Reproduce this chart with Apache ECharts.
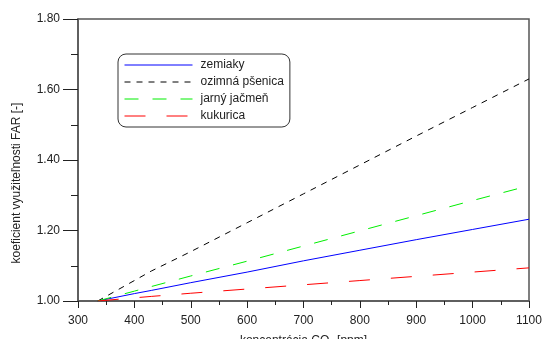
<!DOCTYPE html>
<html>
<head>
<meta charset="utf-8">
<script src="https://cdn.jsdelivr.net/npm/echarts@6/dist/echarts.min.js"></script>
<style>
html,body{margin:0;padding:0;background:#fff;}
#chart{width:542px;height:339px;}
</style>
</head>
<body>
<div id="chart"></div>
<script>
var seriesNames = ['zemiaky', 'ozimná pšenica', 'jarný jačmeň', 'kukurica'];
var ppm = [335, 400, 430, 500, 600, 700, 800, 900, 1000, 1100];
var zemiaky = [1.000, 1.021, 1.030, 1.052, 1.082, 1.114, 1.144, 1.174, 1.203, 1.232];
var ozimnaPsenica = [1.000, 1.058, 1.085, 1.140, 1.222, 1.304, 1.386, 1.468, 1.549, 1.630];
var jarnyJacmen = [1.000, 1.028, 1.041, 1.071, 1.113, 1.156, 1.199, 1.242, 1.285, 1.327];
var kukurica = [1.000, 1.009, 1.013, 1.022, 1.034, 1.046, 1.058, 1.070, 1.082, 1.094];
var xName = ['koncentrácia CO', '2', ' [ppm]'];
var yName = 'koeficient využiteľnosti FAR [-]';

function pairs(ys){ return ppm.map(function(x,i){ return [x, ys[i]]; }); }

var axisCol = '#555';
var font = 'Liberation Sans, Arial, sans-serif';
var chart = echarts.init(document.getElementById('chart'), null, {renderer:'canvas'});
chart.setOption({
  animation: false,
  backgroundColor: '#fff',
  grid: {left: 78, right: 13, top: 19, bottom: 38, containLabel: false, outerBoundsMode: 'none',
    show: true, borderColor: axisCol, borderWidth: 1.5, backgroundColor: 'transparent'},
  xAxis: {
    type: 'value', min: 300, max: 1100, interval: 100,
    axisLine: {show: true, lineStyle: {color: axisCol, width: 1.5}},
    axisTick: {show: true, length: 7, lineStyle: {color: '#222', width: 1}},
    minorTick: {show: true, splitNumber: 2, length: 4, lineStyle: {color: '#222', width: 1}},
    splitLine: {show: false},
    axisLabel: {color: '#222', fontSize: 12, fontFamily: font, margin: 14,
      formatter: function(v){ return String(v); }},
    name: '{a|' + xName[0] + '}{s|' + xName[1] + '}{a|' + xName[2] + '}',
    nameLocation: 'middle', nameGap: 33,
    nameTextStyle: {rich: {
      a: {fontSize: 12, fontFamily: font, color: '#222'},
      s: {fontSize: 8, fontFamily: font, color: '#222', verticalAlign: 'bottom', padding: [6,0,0,0]}
    }}
  },
  yAxis: {
    type: 'value', min: 1.0, max: 1.8, interval: 0.2,
    axisLine: {show: true, lineStyle: {color: axisCol, width: 1.5}},
    axisTick: {show: true, length: 15, lineStyle: {color: '#222', width: 1}},
    minorTick: {show: true, splitNumber: 2, length: 7, lineStyle: {color: '#222', width: 1}},
    splitLine: {show: false},
    axisLabel: {color: '#222', fontSize: 12, fontFamily: font, margin: 18,
      formatter: function(v){ return v.toFixed(2); }}
  },
  graphic: [{
    type: 'text', x: 17, y: 183, rotation: Math.PI/2,
    style: {text: yName, fill: '#222', font: '12px ' + font, align: 'center', verticalAlign: 'middle'}
  }],
  legend: {
    show: true, orient: 'vertical', left: 118, top: 54,
    padding: [5, 6, 5, 6],
    itemWidth: 68, itemHeight: 12, itemGap: 5,
    borderColor: '#333', borderWidth: 1, borderRadius: 8,
    backgroundColor: '#fff',
    itemStyle: {opacity: 0},
    lineStyle: {width: 1},
    textStyle: {fontSize: 12, fontFamily: font, color: '#222', padding: [0,0,0,3]},
    data: seriesNames
  },
  series: [
    {name: seriesNames[0], type: 'line', data: pairs(zemiaky), symbol: 'none', lineStyle: {color: '#0000ff', width: 1}, itemStyle: {color: '#0000ff'}},
    {name: seriesNames[1], type: 'line', data: pairs(ozimnaPsenica), symbol: 'none', lineStyle: {color: '#000000', width: 1, type: [6, 6]}, itemStyle: {color: '#000'}},
    {name: seriesNames[2], type: 'line', data: pairs(jarnyJacmen), symbol: 'none', lineStyle: {color: '#00ee00', width: 1, type: [14, 14]}, itemStyle: {color: '#00ee00'}},
    {name: seriesNames[3], type: 'line', data: pairs(kukurica), symbol: 'none', lineStyle: {color: '#ff0000', width: 1, type: [21, 21]}, itemStyle: {color: '#ff0000'}}
  ]
});
</script>
</body>
</html>
